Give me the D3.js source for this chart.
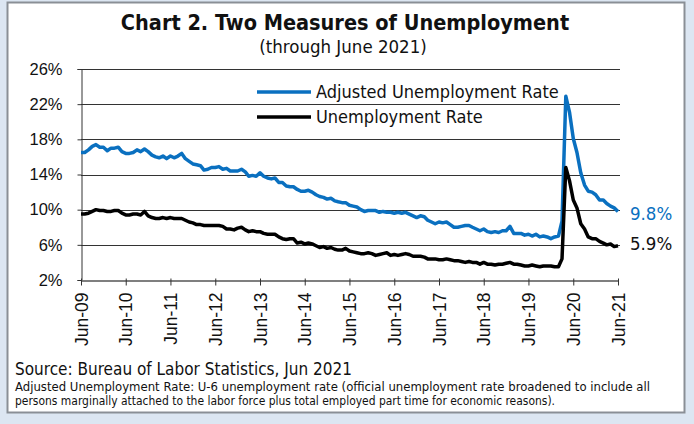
<!DOCTYPE html>
<html>
<head>
<meta charset="utf-8">
<script src="https://cdn.jsdelivr.net/npm/d3@7"></script>
<style>
  body { margin: 0; background: #dce6f2; }
  svg { display: block; font-family: "DejaVu Sans Condensed", "DejaVu Sans", sans-serif; }
</style>
</head>
<body>
<svg id="chart" width="694" height="424"></svg>
<script>
// monthly values, Jun-09 .. Jun-21
const u6 = [
  16.5, 16.5, 16.8, 17.2, 17.4, 17.1, 17.1,
  16.7, 17.0, 17.0, 17.1, 16.6, 16.4, 16.4, 16.5, 16.8, 16.6, 16.9, 16.6,
  16.2, 16.0, 15.9, 16.1, 15.8, 16.1, 15.9, 16.1, 16.4, 15.8, 15.5, 15.2,
  15.1, 15.0, 14.5, 14.6, 14.8, 14.8, 14.9, 14.6, 14.7, 14.4, 14.4, 14.4,
  14.6, 14.3, 13.8, 13.9, 13.8, 14.2, 13.8, 13.6, 13.5, 13.6, 13.1, 13.1,
  12.7, 12.6, 12.6, 12.3, 12.1, 12.1, 12.2, 12.0, 11.7, 11.5, 11.4, 11.2,
  11.3, 11.0, 10.9, 10.8, 10.8, 10.5, 10.4, 10.3, 10.0, 9.8, 9.9, 9.9,
  9.9, 9.7, 9.8, 9.7, 9.7, 9.6, 9.7, 9.6, 9.7, 9.5, 9.3, 9.1,
  9.3, 9.2, 8.8, 8.6, 8.4, 8.6, 8.5, 8.6, 8.3, 8.0, 8.0, 8.1,
  8.2, 8.2, 8.0, 7.8, 7.6, 7.8, 7.5, 7.4, 7.5, 7.4, 7.6, 7.6,
  8.1, 7.3, 7.3, 7.3, 7.1, 7.2, 7.0, 7.2, 6.9, 7.0, 6.9, 6.7,
  6.9, 7.0, 8.7, 22.9, 21.1, 18.1, 16.5, 14.2, 12.8, 12.1, 12.0, 11.7,
  11.1, 11.1, 10.7, 10.4, 10.2, 9.8
];
const u3 = [
  9.5, 9.5, 9.6, 9.8, 10.0, 9.9, 9.9,
  9.8, 9.8, 9.9, 9.9, 9.6, 9.4, 9.4, 9.5, 9.5, 9.4, 9.8, 9.3,
  9.1, 9.0, 9.0, 9.1, 9.0, 9.1, 9.0, 9.0, 9.0, 8.8, 8.6, 8.5,
  8.3, 8.3, 8.2, 8.2, 8.2, 8.2, 8.2, 8.1, 7.8, 7.8, 7.7, 7.9,
  8.0, 7.7, 7.5, 7.6, 7.5, 7.5, 7.3, 7.2, 7.2, 7.2, 6.9, 6.7,
  6.6, 6.7, 6.7, 6.2, 6.3, 6.1, 6.2, 6.1, 5.9, 5.7, 5.8, 5.6,
  5.7, 5.5, 5.4, 5.4, 5.6, 5.3, 5.2, 5.1, 5.0, 5.0, 5.1, 5.0,
  4.8, 4.9, 5.0, 5.1, 4.8, 4.9, 4.8, 4.9, 5.0, 4.9, 4.7, 4.7,
  4.7, 4.6, 4.4, 4.4, 4.4, 4.3, 4.3, 4.4, 4.3, 4.2, 4.2, 4.1,
  4.0, 4.1, 4.0, 4.0, 3.8, 4.0, 3.8, 3.8, 3.7, 3.8, 3.8, 3.9,
  4.0, 3.8, 3.8, 3.7, 3.6, 3.6, 3.7, 3.6, 3.5, 3.6, 3.6, 3.6,
  3.5, 3.5, 4.4, 14.8, 13.3, 11.1, 10.2, 8.4, 7.8, 6.9, 6.7, 6.7,
  6.4, 6.2, 6.0, 6.1, 5.8, 5.9
];
const yTicks = [2, 6, 10, 14, 18, 22, 26];
const xTickYears = [2009, 2010, 2011, 2012, 2013, 2014, 2015, 2016, 2017, 2018, 2019, 2020, 2021];
const seriesNames = ["Adjusted Unemployment Rate", "Unemployment Rate"];
const endLabels = ["9.8%", "5.9%"];

const blue = "#0a70c0";
const svg = d3.select("#chart");

// white panel
svg.append("rect").attr("x", 7.5).attr("y", 2.5).attr("width", 677).attr("height", 410)
  .attr("fill", "#fff").attr("stroke", "#8a8f96").attr("stroke-width", 2);

const start = new Date(2009, 5, 1);
const months = d3.range(u6.length).map(i => d3.timeMonth.offset(start, i));

const x = d3.scaleTime().domain([start, months[months.length - 1]]).range([81, 618]);
const y = d3.scaleLinear().domain([2, 26]).range([280, 69]);

// gridlines
svg.append("g").selectAll("line").data(yTicks.filter(d => d > 2)).join("line")
  .attr("x1", 81).attr("x2", 620)
  .attr("y1", d => Math.round(y(d)) + 0.5).attr("y2", d => Math.round(y(d)) + 0.5)
  .attr("stroke", "#333").attr("stroke-width", 1);

// y axis
const yAxis = svg.append("g").attr("transform", "translate(81.5,0)")
  .call(d3.axisLeft(y).tickValues(yTicks).tickSize(4).tickFormat(d => d + "%"));
yAxis.select(".domain").attr("stroke", "#333");
yAxis.selectAll(".tick line").attr("stroke", "#333");
yAxis.selectAll("text").attr("font-size", 16.5).attr("fill", "#111").attr("x", -19);

// x axis
const xAxis = svg.append("g").attr("transform", "translate(0,280.5)")
  .call(d3.axisBottom(x).tickValues(xTickYears.map(yr => new Date(yr, 5, 1)))
    .tickSize(5).tickSizeOuter(0).tickFormat(d3.timeFormat("%b-%y")));
xAxis.select(".domain").attr("stroke", "#555").attr("stroke-width", 1.5);
xAxis.selectAll(".tick line").attr("stroke", "#333").attr("y1", -2);
xAxis.selectAll("text")
  .attr("font-size", 17.5).attr("fill", "#111")
  .attr("transform", "rotate(-90)")
  .attr("text-anchor", "end").attr("x", -12).attr("y", 0).attr("dy", "0.35em");

// lines
const line = d3.line().x((d, i) => x(months[i])).y(d => y(d));
svg.append("path").datum(u6).attr("d", line)
  .attr("fill", "none").attr("stroke", blue).attr("stroke-width", 3.5).attr("stroke-linejoin", "round");
svg.append("path").datum(u3).attr("d", line)
  .attr("fill", "none").attr("stroke", "#000").attr("stroke-width", 3.5).attr("stroke-linejoin", "round");

// end labels
svg.append("text").attr("x", 630).attr("y", y(u6[u6.length - 1]) + 9).attr("font-size", 18.5)
  .attr("fill", blue).text(endLabels[0]);
svg.append("text").attr("x", 630).attr("y", y(u3[u3.length - 1]) + 4).attr("font-size", 18.5)
  .attr("fill", "#111").text(endLabels[1]);

// legend
const legend = svg.append("g");
[[blue, 92], ["#000", 117]].forEach(([c, ly], i) => {
  legend.append("line").attr("x1", 257).attr("x2", 311).attr("y1", ly).attr("y2", ly)
    .attr("stroke", c).attr("stroke-width", 3.5);
  legend.append("text").attr("x", 316).attr("y", ly + 6).attr("font-size", 18)
    .attr("fill", "#111").text(seriesNames[i]);
});

// titles
svg.append("text").attr("x", 345).attr("y", 30).attr("text-anchor", "middle")
  .attr("font-size", 21.5).attr("font-weight", "bold").attr("fill", "#111")
  .text("Chart 2. Two Measures of Unemployment");
svg.append("text").attr("x", 343).attr("y", 53).attr("text-anchor", "middle")
  .attr("font-size", 18.5).attr("fill", "#111").text("(through June 2021)");

// notes
svg.append("text").attr("x", 15).attr("y", 375).attr("font-size", 17).attr("fill", "#111")
  .attr("textLength", 337).attr("lengthAdjust", "spacingAndGlyphs")
  .text("Source: Bureau of Labor Statistics, Jun 2021");
svg.append("text").attr("x", 15).attr("y", 391).attr("font-size", 13).attr("fill", "#111")
  .attr("textLength", 635).attr("lengthAdjust", "spacingAndGlyphs")
  .text("Adjusted Unemployment Rate: U-6 unemployment rate (official unemployment rate broadened to include all");
svg.append("text").attr("x", 15).attr("y", 405).attr("font-size", 13).attr("fill", "#111")
  .attr("textLength", 540).attr("lengthAdjust", "spacingAndGlyphs")
  .text("persons marginally attached to the labor force plus total employed part time for economic reasons).");
</script>
</body>
</html>
